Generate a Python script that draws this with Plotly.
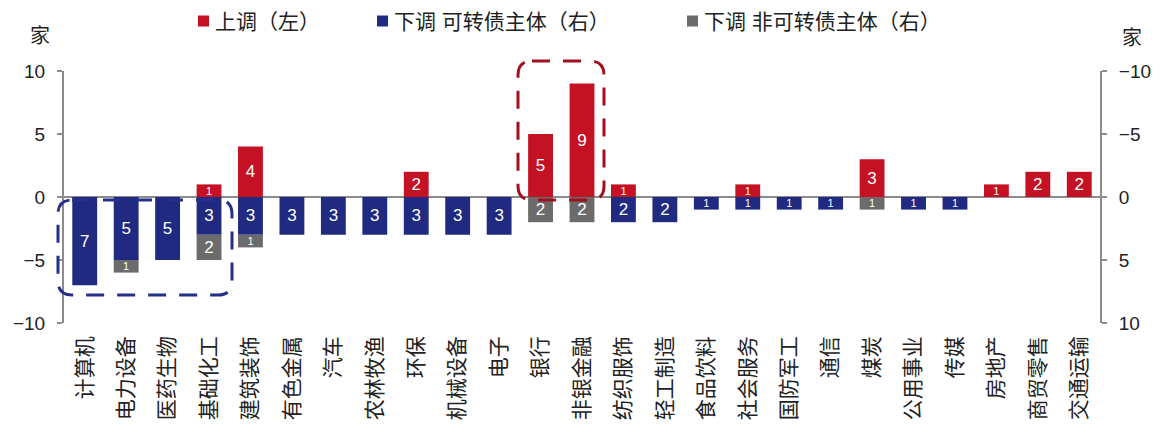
import plotly.graph_objects as go

categories = ["计算机", "电力设备", "医药生物", "基础化工", "建筑装饰", "有色金属", "汽车", "农林牧渔",
              "环保", "机械设备", "电子", "银行", "非银金融", "纺织服饰", "轻工制造", "食品饮料",
              "社会服务", "国防军工", "通信", "煤炭", "公用事业", "传媒", "房地产", "商贸零售", "交通运输"]
up_left = [0, 0, 0, 1, 4, 0, 0, 0, 2, 0, 0, 5, 9, 1, 0, 0, 1, 0, 0, 3, 0, 0, 1, 2, 2]
down_cb = [7, 5, 5, 3, 3, 3, 3, 3, 3, 3, 3, 0, 0, 2, 2, 1, 1, 1, 1, 0, 1, 1, 0, 0, 0]
down_noncb = [0, 1, 0, 2, 1, 0, 0, 0, 0, 0, 0, 2, 2, 0, 0, 0, 0, 0, 0, 1, 0, 0, 0, 0, 0]
left_ticks = [10, 5, 0, -5, -10]
right_ticks = [-10, -5, 0, 5, 10]
series_names = ["上调（左）", "下调 可转债主体（右）", "下调 非可转债主体（右）"]

RED = "#C51124"
BLUE = "#1F2A80"
GRAY = "#6B6B6B"
AXIS = "#8C8C8C"
FONT = "Liberation Sans, Noto Sans CJK SC, Arial, sans-serif"

W, H = 1166, 434
L, R, T, B = 64, 66, 71, 111
PW, PH = W - L - R, H - T - B


def lab(vals):
    return [str(v) if v else "" for v in vals]


def lab_size(vals):
    return [11 if v == 1 else 17 for v in vals]


fig = go.Figure()
for vals, name, col, ax in [(up_left, series_names[0], RED, "y"),
                            (down_cb, series_names[1], BLUE, "y2"),
                            (down_noncb, series_names[2], GRAY, "y2")]:
    fig.add_trace(go.Bar(x=categories, y=vals, name=name, marker=dict(color=col, line=dict(width=0)),
                         text=lab(vals), yaxis=ax,
                         textfont=dict(color="white", size=lab_size(vals), family=FONT)))
fig.update_traces(textposition="inside", insidetextanchor="middle", textangle=0, constraintext="none",
                  cliponaxis=False)


def px(x, y):
    return (x - L) / PW, (H - B - y) / PH


def rrect(x0, y0, x1, y1, r):
    pts = []
    a = px(x0 + r, y0); pts.append("M%.5f,%.5f" % a)
    b = px(x1 - r, y0); pts.append("L%.5f,%.5f" % b)
    c = px(x1, y0); d = px(x1, y0 + r); pts.append("Q%.5f,%.5f %.5f,%.5f" % (c + d))
    e = px(x1, y1 - r); pts.append("L%.5f,%.5f" % e)
    f = px(x1, y1); g = px(x1 - r, y1); pts.append("Q%.5f,%.5f %.5f,%.5f" % (f + g))
    h = px(x0 + r, y1); pts.append("L%.5f,%.5f" % h)
    i = px(x0, y1); j = px(x0, y1 - r); pts.append("Q%.5f,%.5f %.5f,%.5f" % (i + j))
    k = px(x0, y0 + r); pts.append("L%.5f,%.5f" % k)
    m = px(x0, y0); n = px(x0 + r, y0); pts.append("Q%.5f,%.5f %.5f,%.5f" % (m + n))
    return " ".join(pts)


shapes = [
    dict(type="path", xref="paper", yref="paper", path=rrect(58, 200, 232, 295, 14),
         line=dict(color="#24308A", width=3, dash="18px,13px")),
    dict(type="path", xref="paper", yref="paper", path=rrect(518, 61, 604, 200, 14),
         line=dict(color="#A0101E", width=3, dash="18px,13px")),
]

annotations = [
    dict(text="家", xref="paper", yref="paper", x=px(40, 36)[0], y=px(40, 36)[1],
         showarrow=False, font=dict(size=20), xanchor="center", yanchor="middle"),
    dict(text="家", xref="paper", yref="paper", x=px(1132, 38)[0], y=px(1132, 38)[1],
         showarrow=False, font=dict(size=20), xanchor="center", yanchor="middle"),
]

# legend: colour square + label
legend_sq_x = [198, 377, 687]
legend_colors = [RED, BLUE, GRAY]
LEG_Y = 21
for sx, col, name in zip(legend_sq_x, legend_colors, series_names):
    p0 = px(sx, LEG_Y + 5.5)
    p1 = px(sx + 11, LEG_Y - 5.5)
    shapes.append(dict(type="rect", xref="paper", yref="paper", x0=p0[0], y0=p0[1], x1=p1[0], y1=p1[1],
                       fillcolor=col, line=dict(width=0)))
    t = px(sx + 15, LEG_Y)
    annotations.append(dict(text=name, xref="paper", yref="paper", x=t[0], y=t[1], showarrow=False,
                            xanchor="left", yanchor="middle", font=dict(size=21, family=FONT, color="#222222")))

fig.update_layout(
    width=W, height=H,
    margin=dict(l=L, r=R, t=T, b=B, autoexpand=False),
    paper_bgcolor="white", plot_bgcolor="white",
    barmode="relative", bargap=0.4,
    font=dict(family=FONT, size=19, color="#222222"),
    showlegend=False,
    xaxis=dict(type="category", showline=False, ticks="", showgrid=False, zeroline=False,
               tickangle=-90, tickfont=dict(size=21, family=FONT), ticklabelstandoff=8),
    yaxis=dict(range=[-10, 10], tickvals=left_ticks, showgrid=False, zeroline=True,
               zerolinecolor=AXIS, zerolinewidth=2, showline=True, linecolor=AXIS, linewidth=2,
               ticks="outside", ticklen=5, tickcolor=AXIS, tickwidth=2, ticklabelstandoff=8,
               tickfont=dict(size=19)),
    yaxis2=dict(range=[10, -10], tickvals=right_ticks, overlaying="y", side="right",
                showgrid=False, zeroline=False, showline=True, linecolor=AXIS, linewidth=2,
                ticks="outside", ticklen=5, tickcolor=AXIS, tickwidth=2, ticklabelstandoff=8,
                tickfont=dict(size=19)),
    shapes=shapes,
    annotations=annotations,
)

fig.write_html("out.html")
